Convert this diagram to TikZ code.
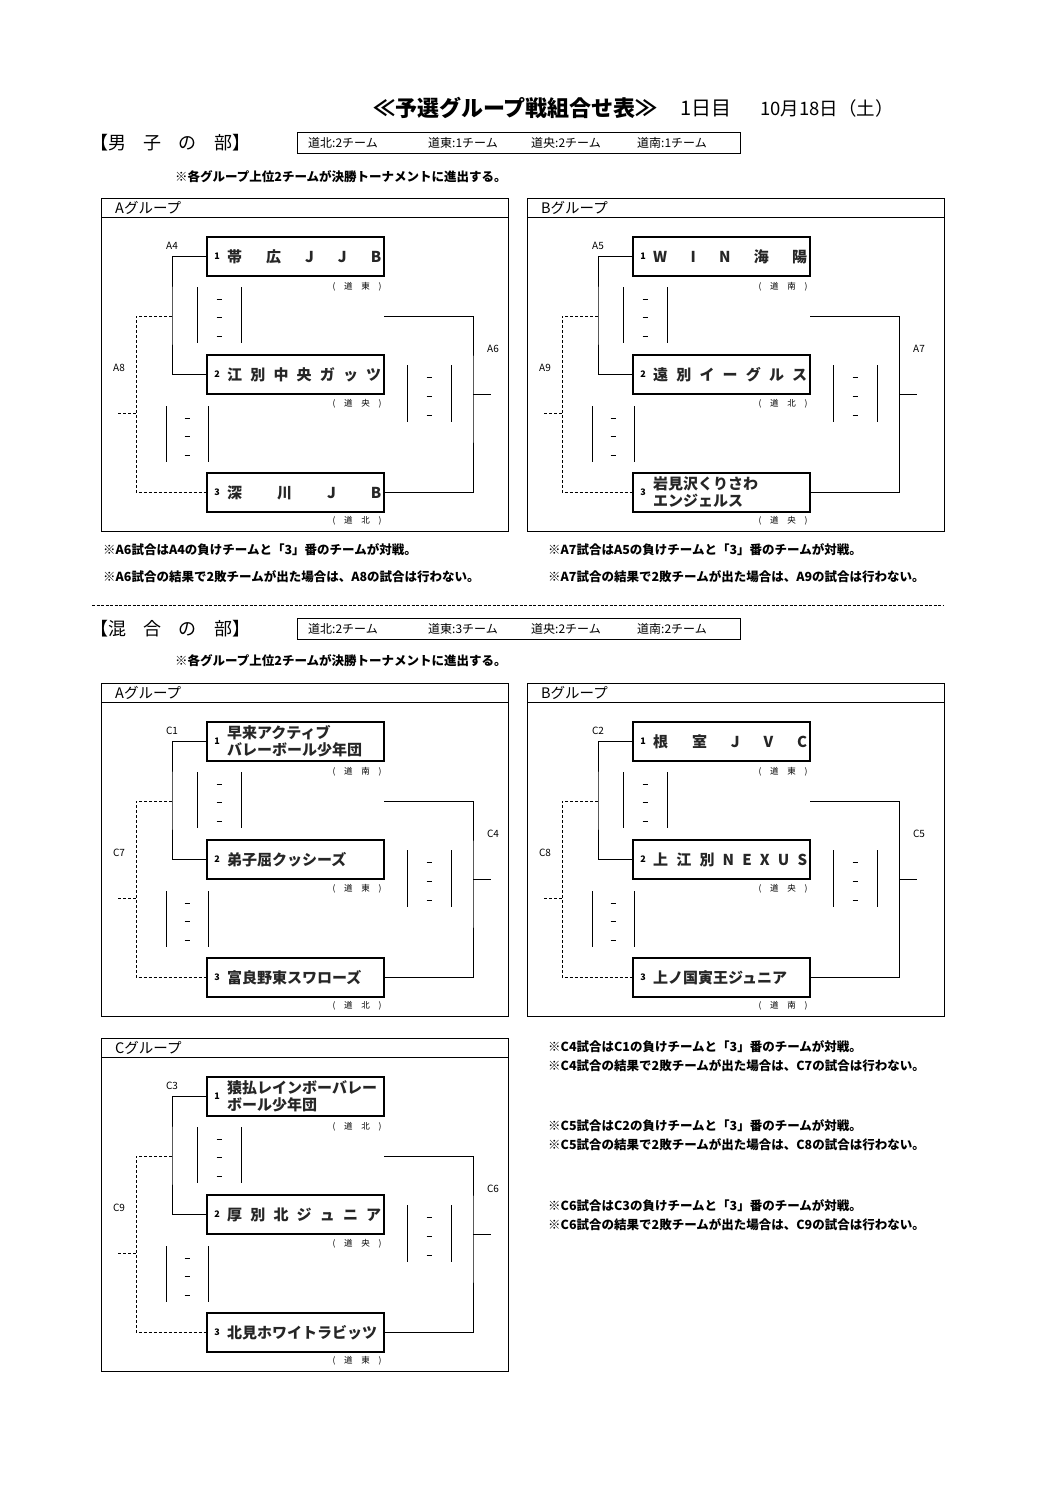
\documentclass[tikz,border=0pt]{standalone}
\usepackage{fontspec}
\setmainfont{Noto Sans CJK JP}
\usetikzlibrary{calc}
\tikzset{
  frame/.style={draw, line width=0.8pt},
  teambox/.style={draw, line width=1.3pt, minimum width=177pt, minimum height=39pt, inner sep=0pt},
  num/.style={font=\fontsize{9}{10}\selectfont\bfseries, inner sep=0pt},
  tname/.style={font=\fontsize{15}{17}\selectfont\bfseries, text=black!85, anchor=west, inner sep=0pt, align=left},
  reg/.style={font=\fontsize{8.5}{10}\selectfont, inner sep=0pt},
  mlabel/.style={font=\fontsize{10}{12}\selectfont, inner sep=0pt},
  gtitle/.style={font=\fontsize{14.5}{16}\selectfont, anchor=west, inner sep=0pt},
  note/.style={font=\fontsize{12.5}{14}\selectfont\bfseries, anchor=west, inner sep=0pt},
  hdr/.style={font=\fontsize{12}{14}\selectfont, anchor=west, inner sep=0pt},
  conn/.style={line width=0.9pt},
  dconn/.style={line width=0.9pt, dash pattern=on 3pt off 2pt},
  sline/.style={line width=0.9pt},
}
\newcommand{\scorebr}[4]{%
  \draw[sline] (#1,#3) -- (#1,#4);
  \draw[sline] (#2,#3) -- (#2,#4);
  \pgfmathsetmacro\sbx{(#1+#2)/2}
  \foreach \f in {0.22,0.55,0.88}{%
    \pgfmathsetmacro\sby{#3+\f*(#4-#3)}
    \draw[sline] (\sbx-2.5,\sby) -- (\sbx+2.5,\sby);
  }%
}
\newcommand{\regl}[1]{\makebox[49pt][s]{(\hfill #1\hfill )}}
\newcommand{\drawgroup}[8]{%
\begin{scope}[shift={(#2,#3)}]
  \draw[frame] (0,0) rectangle (#4,333);
  \draw[frame] (0,19) -- (#4,19);
  \node[gtitle] (#1title) at (14,9.5) {#5};
  \node[teambox] (#1b1) at (194.5,58.5) {};
  \node[teambox] (#1b2) at (194.5,176.5) {};
  \node[teambox] (#1b3) at (194.5,294.5) {};
  \node[num] (#1n1) at (116,58.5) {1};
  \node[num] (#1n2) at (116,176.5) {2};
  \node[num] (#1n3) at (116,294.5) {3};
  \node[tname] (#1t1) at (126,58.5) {\tnA};
  \node[tname] (#1t2) at (126,176.5) {\tnB};
  \node[tname] (#1t3) at (126,294.5) {\tnC};
  \node[reg] (#1r1) at (256,89) {\regl{\rgA}};
  \node[reg] (#1r2) at (256,206) {\regl{\rgB}};
  \node[reg] (#1r3) at (256,323) {\regl{\rgC}};
  \coordinate (#1j) at (71,118);
  \coordinate (#1dj) at (35,215);
  \coordinate (#1ds) at (17,215);
  \coordinate (#1rj) at (283,118);
  \coordinate (#1rm) at (372,196);
  \coordinate (#1re) at (390,196);
  \draw[conn] (#1b1.west) -| (#1j) |- (#1b2.west);
  \draw[dconn] (#1j) -- (35,118) |- (#1b3.west);
  \draw[dconn] (#1ds) -- (#1dj);
  \draw[conn] (#1rj) -| (#1rm) |- (#1b3.east);
  \draw[conn] (#1rm) -- (#1re);
  \node[mlabel] (#1l1) at (71,48) {#6};
  \node[mlabel] (#1l2) at (18,170) {#7};
  \node[mlabel] (#1l3) at (392,151) {#8};
  \scorebr{96}{140}{89}{145}
  \scorebr{65}{107}{208}{264}
  \scorebr{306}{350}{167}{224}
\end{scope}}
\newcommand{\spr}[1]{\makebox[154pt][s]{#1}}
\begin{document}
\begin{tikzpicture}[x=1pt,y=-1pt]
\useasboundingbox (0,0) rectangle (1058,1496);
% title
\node[anchor=west, inner sep=0pt, font=\fontsize{22}{24}\selectfont\bfseries] (title1) at (373,108) {≪予選グループ戦組合せ表≫};
\node[anchor=west, inner sep=0pt, font=\fontsize{20}{22}\selectfont] (title2) at (680,108) {1日目};
\node[anchor=west, inner sep=0pt, font=\fontsize{18.5}{22}\selectfont] (title3) at (760,108) {10月18日（土）};
% male header
\node[anchor=west, inner sep=0pt, font=\fontsize{18}{20}\selectfont] (mh) at (90,143) {\makebox[160pt][s]{【男\hfill 子\hfill の\hfill 部】}};
\node[draw, line width=0.8pt, minimum width=443pt, minimum height=21pt, inner sep=0pt, anchor=north west] (mbox) at (297,132) {};
\node[hdr] (mh1) at (308,143) {道北:2チーム};
\node[hdr] (mh2) at (428,143) {道東:1チーム};
\node[hdr] (mh3) at (531,143) {道央:2チーム};
\node[hdr] (mh4) at (637,143) {道南:1チーム};
\node[note] (mnote) at (175,177) {※各グループ上位2チームが決勝トーナメントに進出する。};
% male A
\def\tnA{\spr{帯\hfill 広\hfill J\hfill J\hfill B}}
\def\tnB{\spr{江\hfill 別\hfill 中\hfill 央\hfill ガ\hfill ッ\hfill ツ}}
\def\tnC{\spr{深\hfill 川\hfill J\hfill B}}
\def\rgA{道\hfill 東}\def\rgB{道\hfill 央}\def\rgC{道\hfill 北}
\drawgroup{ma}{101}{198}{407}{Aグループ}{A4}{A8}{A6}
% male B
\def\tnA{\spr{W\hfill I\hfill N\hfill 海\hfill 陽}}
\def\tnB{\spr{遠\hfill 別\hfill イ\hfill ー\hfill グ\hfill ル\hfill ス}}
\def\tnC{岩見沢くりさわ\\エンジェルス}
\def\rgA{道\hfill 南}\def\rgB{道\hfill 北}\def\rgC{道\hfill 央}
\drawgroup{mb}{527}{198}{417}{Bグループ}{A5}{A9}{A7}
% male notes
\node[note] (mn1) at (103,550) {※A6試合はA4の負けチームと「3」番のチームが対戦。};
\node[note] (mn2) at (103,577) {※A6試合の結果で2敗チームが出た場合は、A8の試合は行わない。};
\node[note] (mn3) at (548,550) {※A7試合はA5の負けチームと「3」番のチームが対戦。};
\node[note] (mn4) at (548,577) {※A7試合の結果で2敗チームが出た場合は、A9の試合は行わない。};
% separator
\coordinate (sepL) at (92,605);
\coordinate (sepR) at (943,605);
\draw[line width=0.8pt, dash pattern=on 3pt off 1.5pt] (sepL) -- (sepR);
% mixed header
\node[anchor=west, inner sep=0pt, font=\fontsize{18}{20}\selectfont] (xh) at (90,629) {\makebox[160pt][s]{【混\hfill 合\hfill の\hfill 部】}};
\node[draw, line width=0.8pt, minimum width=443pt, minimum height=21pt, inner sep=0pt, anchor=north west] (xbox) at (297,618) {};
\node[hdr] (xh1) at (308,629) {道北:2チーム};
\node[hdr] (xh2) at (428,629) {道東:3チーム};
\node[hdr] (xh3) at (531,629) {道央:2チーム};
\node[hdr] (xh4) at (637,629) {道南:2チーム};
\node[note] (xnote) at (175,661) {※各グループ上位2チームが決勝トーナメントに進出する。};
% mixed A
\def\tnA{早来アクティブ\\バレーボール少年団}
\def\tnB{弟子屈クッシーズ}
\def\tnC{富良野東スワローズ}
\def\rgA{道\hfill 南}\def\rgB{道\hfill 東}\def\rgC{道\hfill 北}
\drawgroup{xa}{101}{683}{407}{Aグループ}{C1}{C7}{C4}
% mixed B
\def\tnA{\spr{根\hfill 室\hfill J\hfill V\hfill C}}
\def\tnB{\spr{上\hfill 江\hfill 別\hfill N\hfill E\hfill X\hfill U\hfill S}}
\def\tnC{上ノ国寅王ジュニア}
\def\rgA{道\hfill 東}\def\rgB{道\hfill 央}\def\rgC{道\hfill 南}
\drawgroup{xb}{527}{683}{417}{Bグループ}{C2}{C8}{C5}
% mixed C
\def\tnA{猿払レインボーバレー\\ボール少年団}
\def\tnB{\spr{厚\hfill 別\hfill 北\hfill ジ\hfill ュ\hfill ニ\hfill ア}}
\def\tnC{北見ホワイトラビッツ}
\def\rgA{道\hfill 北}\def\rgB{道\hfill 央}\def\rgC{道\hfill 東}
\drawgroup{xc}{101}{1038}{407}{Cグループ}{C3}{C9}{C6}
% mixed notes
\node[note] (cn1) at (548,1047) {※C4試合はC1の負けチームと「3」番のチームが対戦。};
\node[note] (cn2) at (548,1066) {※C4試合の結果で2敗チームが出た場合は、C7の試合は行わない。};
\node[note] (cn3) at (548,1126) {※C5試合はC2の負けチームと「3」番のチームが対戦。};
\node[note] (cn4) at (548,1145) {※C5試合の結果で2敗チームが出た場合は、C8の試合は行わない。};
\node[note] (cn5) at (548,1206) {※C6試合はC3の負けチームと「3」番のチームが対戦。};
\node[note] (cn6) at (548,1225) {※C6試合の結果で2敗チームが出た場合は、C9の試合は行わない。};
\end{tikzpicture}
\end{document}
